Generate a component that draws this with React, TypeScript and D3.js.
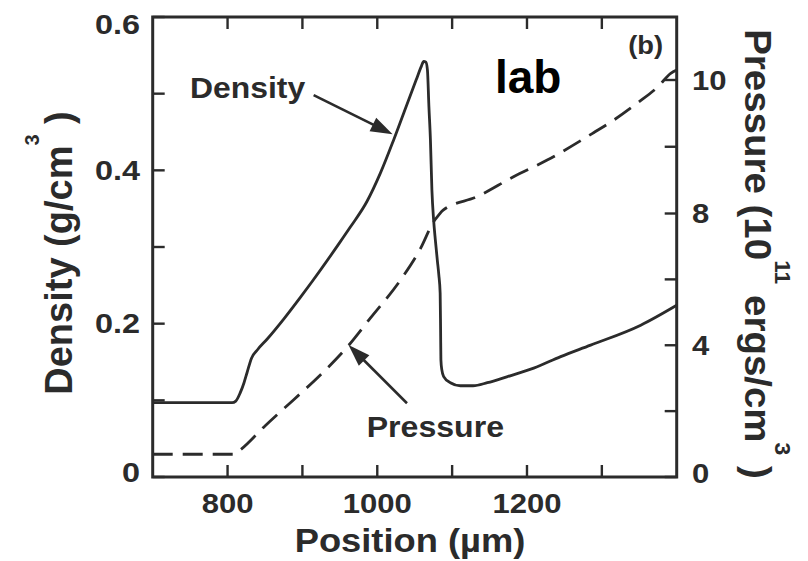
import React from 'react';
import * as d3 from 'd3';

// axis setup
const positionDomain = [700, 1400];
const positionTicks = [800, 900, 1000, 1100, 1200, 1300];
const positionLabels = [800, 1000, 1200];
const densityDomain = [0, 0.6];
const densityTicks = [0, 0.1, 0.2, 0.3, 0.4, 0.5, 0.6];
const densityLabels = [0, 0.2, 0.4, 0.6];
// right axis is printed unevenly: 0..8 in steps of 2, then 9 and 10 squeezed at the top
const pressureBreaks = [0, 8, 10];
const pressureTicks = [0, 2, 4, 6, 8, 9, 10];
const pressureLabels = [0, 4, 8, 10];

// density profile, um vs g/cm3
const densityPos = [700, 806, 811, 817, 822, 826, 832, 840, 853, 875, 897, 913, 950, 964, 986, 1004, 1022, 1040, 1052, 1059, 1062, 1065, 1067, 1069, 1071, 1073, 1075.3, 1077.6, 1080.3, 1082.2, 1084, 1084.6, 1085, 1086.2, 1088.7, 1097.6, 1111, 1128, 1147, 1174, 1209, 1245, 1285, 1352, 1400];
const densityVal = [0.097, 0.097, 0.099, 0.110, 0.123, 0.136, 0.155, 0.166, 0.180, 0.206, 0.234, 0.255, 0.306, 0.326, 0.359, 0.396, 0.440, 0.487, 0.518, 0.536, 0.542, 0.541, 0.531, 0.483, 0.440, 0.374, 0.335, 0.309, 0.282, 0.264, 0.240, 0.192, 0.153, 0.140, 0.131, 0.123, 0.119, 0.119, 0.123, 0.131, 0.142, 0.157, 0.172, 0.198, 0.224];

// pressure profile, um vs 1e11 ergs/cm3
const pressurePos = [700, 809, 817, 850, 888, 925, 960, 991, 1031, 1058, 1075, 1082, 1088, 1133, 1182, 1227, 1289, 1316, 1348, 1375, 1392, 1400];
const pressureVal = [0.69, 0.69, 0.82, 1.55, 2.34, 3.12, 3.95, 4.83, 5.98, 6.95, 7.74, 7.95, 8.05, 8.25, 8.55, 8.80, 9.21, 9.40, 9.66, 9.90, 10.10, 10.15];

const INK = '#2b2b2b';
const FONT = '"Liberation Sans", Arial, Helvetica, sans-serif';

const margin = { top: 17, left: 152.7 };
const W = 524;
const H = 460;

const Txt = ({ x, y, size, rotate = 0, sx = 1, anchor = 'start', fill = INK, children }: any) => (
  <text
    transform={`translate(${x},${y}) rotate(${rotate}) scale(${sx},1)`}
    fontFamily={FONT}
    fontWeight="bold"
    fontSize={size}
    textAnchor={anchor}
    fill={fill}
  >
    {children}
  </text>
);

// line with a filled triangular head, in pixel coords
const Arrow = ({ x1, y1, x2, y2 }: any) => {
  const len = 22, half = 7.5;
  const dx = x2 - x1, dy = y2 - y1;
  const d = Math.hypot(dx, dy);
  const ux = dx / d, uy = dy / d;
  const bx = x2 - ux * len, by = y2 - uy * len;
  const pts = [
    [x2, y2],
    [bx - uy * half, by + ux * half],
    [bx + uy * half, by - ux * half],
  ];
  return (
    <g>
      <line x1={x1} y1={y1} x2={bx + ux * 2} y2={by + uy * 2} stroke={INK} strokeWidth={2.6} />
      <polygon points={pts.map(p => p.join(',')).join(' ')} fill={INK} />
    </g>
  );
};

export default function App() {
  const x = d3.scaleLinear().domain(positionDomain).range([0, W]);
  const yL = d3.scaleLinear().domain(densityDomain).range([H, 0]);
  const yR = d3.scaleLinear().domain(pressureBreaks).range([H, H - 263.5, H - 397]);

  const density = densityPos.map((p, i) => [p, densityVal[i]] as [number, number]);
  const pressure = pressurePos.map((p, i) => [p, pressureVal[i]] as [number, number]);

  const densityLine = d3.line<[number, number]>()
    .x(d => x(d[0]))
    .y(d => yL(d[1]))
    .curve(d3.curveMonotoneX);

  const pressureLine = d3.line<[number, number]>()
    .x(d => x(d[0]))
    .y(d => yR(d[1]))
    .curve(d3.curveMonotoneX);

  const tick = 12;
  const fmt = (v: number) => (v === 0 ? '0' : d3.format('.1f')(v));

  // annotation arrows, in data units
  const densArrow = { x1: x(915), y1: yL(0.498), x2: x(1020.5), y2: yL(0.447) };
  const presArrow = { x1: x(1039.7), y1: yR(2.24), x2: x(961.6), y2: yR(4.01) };

  return (
    <svg width={808} height={561} style={{ position: 'absolute', left: 0, top: 0, background: '#fff' }}>
      <g transform={`translate(${margin.left},${margin.top})`}>
        {/* curves */}
        <path d={densityLine(density) || ''} fill="none" stroke={INK} strokeWidth={2.8} strokeLinejoin="round" />
        <path d={pressureLine(pressure) || ''} fill="none" stroke={INK} strokeWidth={2.8} strokeDasharray="20 10" />

        {/* ticks, all pointing inward */}
        {positionTicks.map(t => (
          <g key={'xt' + t}>
            <line x1={x(t)} x2={x(t)} y1={H} y2={H - tick} stroke={INK} strokeWidth={2.4} />
            <line x1={x(t)} x2={x(t)} y1={0} y2={tick} stroke={INK} strokeWidth={2.4} />
          </g>
        ))}
        {densityTicks.map(t => (
          <line key={'yl' + t} x1={0} x2={tick} y1={yL(t)} y2={yL(t)} stroke={INK} strokeWidth={2.4} />
        ))}
        {pressureTicks.map(t => (
          <line key={'yr' + t} x1={W} x2={W - tick} y1={yR(t)} y2={yR(t)} stroke={INK} strokeWidth={2.4} />
        ))}

        <rect x={0} y={0} width={W} height={H} fill="none" stroke={INK} strokeWidth={3} />

        {/* tick labels */}
        {positionLabels.map(t => (
          <Txt key={'xl' + t} x={x(t)} y={H + 36} size={27} sx={1.15} anchor="middle">{t}</Txt>
        ))}
        {densityLabels.map(t => {
          const yy = Math.min(Math.max(yL(t), 7), H - 5);
          return <Txt key={'ll' + t} x={-12.7} y={yy + 9.7} size={27} sx={1.2} anchor="end">{fmt(t)}</Txt>;
        })}
        {pressureLabels.map(t => {
          const yy = Math.min(Math.max(yR(t), 7), H - 4);
          return <Txt key={'rl' + t} x={W + 15.3} y={yy + 9.7} size={27} sx={1.15}>{t}</Txt>;
        })}

        {/* annotations */}
        <Arrow {...densArrow} />
        <Arrow {...presArrow} />
        <Txt x={37.3} y={81} size={29} sx={1.1}>Density</Txt>
        <Txt x={214} y={419.7} size={30} sx={1.07}>Pressure</Txt>
        <Txt x={510.3} y={37} size={26} sx={1.05} anchor="end">(b)</Txt>
        <text x={342.3} y={76} fontFamily={FONT} fontWeight="bold" fontSize={46} fill="#000">lab</text>
      </g>

      {/* axis titles */}
      <Txt x={410} y={552} size={33} sx={1.1} anchor="middle">Position (µm)</Txt>
      <Txt x={72} y={253} size={38} rotate={-90} anchor="middle">
        Density (g/cm<tspan dy={-33} fontSize={20}>3</tspan><tspan dy={33}> )</tspan>
      </Txt>
      <Txt x={745} y={254} size={37} rotate={90} sx={1.04} anchor="middle">
        Pressure (10<tspan dy={-30} fontSize={22}>11</tspan><tspan dy={30}> ergs/cm</tspan><tspan dy={-30} fontSize={22}>3</tspan><tspan dy={30}> )</tspan>
      </Txt>
    </svg>
  );
}
